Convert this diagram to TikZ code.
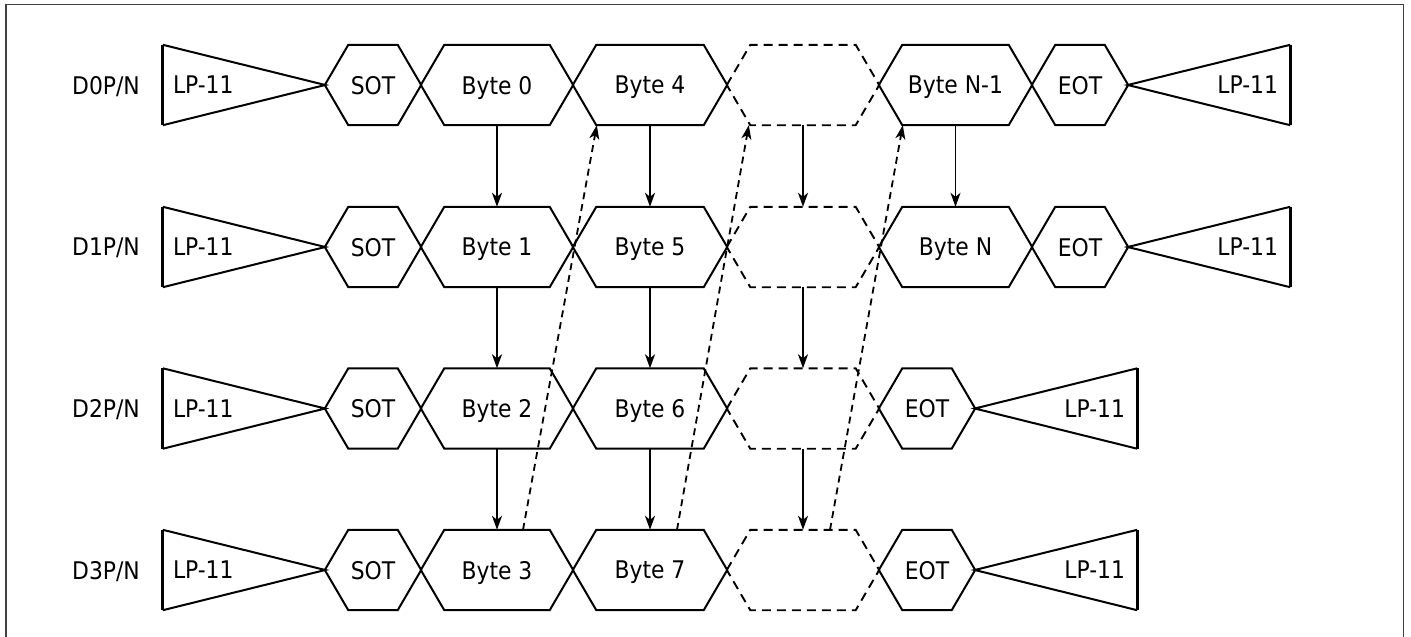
\documentclass[tikz,border=0pt]{standalone}
\usepackage{fontspec}
\setmainfont{DejaVu Sans Condensed}
\usetikzlibrary{arrows.meta}
\tikzset{
  lbl/.style={font=\fontsize{24.3pt}{29pt}\selectfont, inner sep=0pt, text depth=0pt},
  hexn/.style={lbl, minimum height=80pt, minimum width=#1},
  lpl/.style={lbl, minimum height=80pt, text width=142pt, inner xsep=10pt, align=left},
  lpr/.style={lbl, minimum height=80pt, text width=138pt, inner xsep=12pt, align=right},
  shapeline/.style={line width=2pt, line join=miter},
  dashline/.style={line width=1.9pt, dash pattern=on 9pt off 6pt},
  arr/.style={line width=1.8pt, -{Stealth[length=14pt,width=10pt,inset=4pt]}},
  darr/.style={arr, dash pattern=on 7pt off 5pt},
  frame/.style={line width=1.4pt, draw=black!75}
}
\newcommand\hexdraw[2][]{\draw[shapeline,#1] (#2.west) -- ([xshift=23.5pt]#2.north west) -- ([xshift=-23.5pt]#2.north east) -- (#2.east) -- ([xshift=-23.5pt]#2.south east) -- ([xshift=23.5pt]#2.south west) -- cycle;}
\newcommand\lpleft[1]{\draw[shapeline] (#1.south west) -- (#1.east) -- (#1.north west); \draw[line width=3pt] (#1.north west) -- (#1.south west);}
\newcommand\lpright[1]{\draw[shapeline] (#1.south east) -- (#1.west) -- (#1.north east); \draw[line width=3pt] (#1.north east) -- (#1.south east);}
\begin{document}
\begin{tikzpicture}[x=1pt,y=-1pt]
\useasboundingbox (0,0) rectangle (1411,637);
\draw[frame] (6,640) -- (6,4.5) -- (1403.5,4.5) -- (1403.5,640);

% row labels, left LP-11 and SOT
\foreach \r/\y in {0/85,1/247,2/408.5,3/570} {
  \node[lbl] (d\r) at (106,\y) {D\r P/N};
  \node[lpl] (lpl\r) at (244,\y) {LP-11};
  \lpleft{lpl\r}
  \node[hexn=96pt] (sot\r) at (373,\y) {SOT};
  \hexdraw{sot\r}
}

% byte columns
\node[hexn=152pt] (b0) at (497,85) {Byte 0};
\node[hexn=152pt] (b1) at (497,247) {Byte 1};
\node[hexn=152pt] (b2) at (497,408.5) {Byte 2};
\node[hexn=152pt] (b3) at (497,570) {Byte 3};
\node[hexn=154pt] (b4) at (650,85) {Byte 4};
\node[hexn=154pt] (b5) at (650,247) {Byte 5};
\node[hexn=154pt] (b6) at (650,408.5) {Byte 6};
\node[hexn=154pt] (b7) at (650,570) {Byte 7};
\foreach \n in {b0,b1,b2,b3,b4,b5,b6,b7} {\hexdraw{\n}}

% dashed (omitted) column
\foreach \r/\y in {0/85,1/247,2/408.5,3/570} {
  \node[hexn=152pt] (x\r) at (803,\y) {};
  \hexdraw[dashline]{x\r}
}

% rows 0 and 1: last bytes, EOT, LP-11
\node[hexn=153pt] (bn1) at (955.5,85) {Byte N-1};
\node[hexn=153pt] (bn) at (955.5,247) {Byte N};
\hexdraw{bn1}
\hexdraw{bn}
\foreach \r/\y in {0/85,1/247} {
  \node[hexn=96pt] (eot\r) at (1080,\y) {EOT};
  \hexdraw{eot\r}
  \node[lpr] (lpr\r) at (1209,\y) {LP-11};
  \lpright{lpr\r}
}
% rows 2 and 3
\foreach \r/\y in {2/408.5,3/570} {
  \node[hexn=96pt] (eot\r) at (927,\y) {EOT};
  \hexdraw{eot\r}
  \node[lpr] (lpr\r) at (1056,\y) {LP-11};
  \lpright{lpr\r}
}

% solid arrows
\draw[arr] (b0.south) -- (b1.north);
\draw[arr] (b1.south) -- (b2.north);
\draw[arr] (b2.south) -- (b3.north);
\draw[arr] (b4.south) -- (b5.north);
\draw[arr] (b5.south) -- (b6.north);
\draw[arr] (b6.south) -- (b7.north);
\draw[arr] (x0.south) -- (x1.north);
\draw[arr] (x1.south) -- (x2.north);
\draw[arr] (x2.south) -- (x3.north);
\draw[arr] (bn1.south) -- (bn.north);

% dashed wrap-around arrows
\draw[darr] ([xshift=26pt]b3.north) -- ([xshift=24pt]b4.south west);
\draw[darr] ([xshift=27pt]b7.north) -- ([xshift=22pt]x0.south west);
\draw[darr] ([xshift=27pt]x3.north) -- ([xshift=24pt]bn1.south west);
\end{tikzpicture}
\end{document}
